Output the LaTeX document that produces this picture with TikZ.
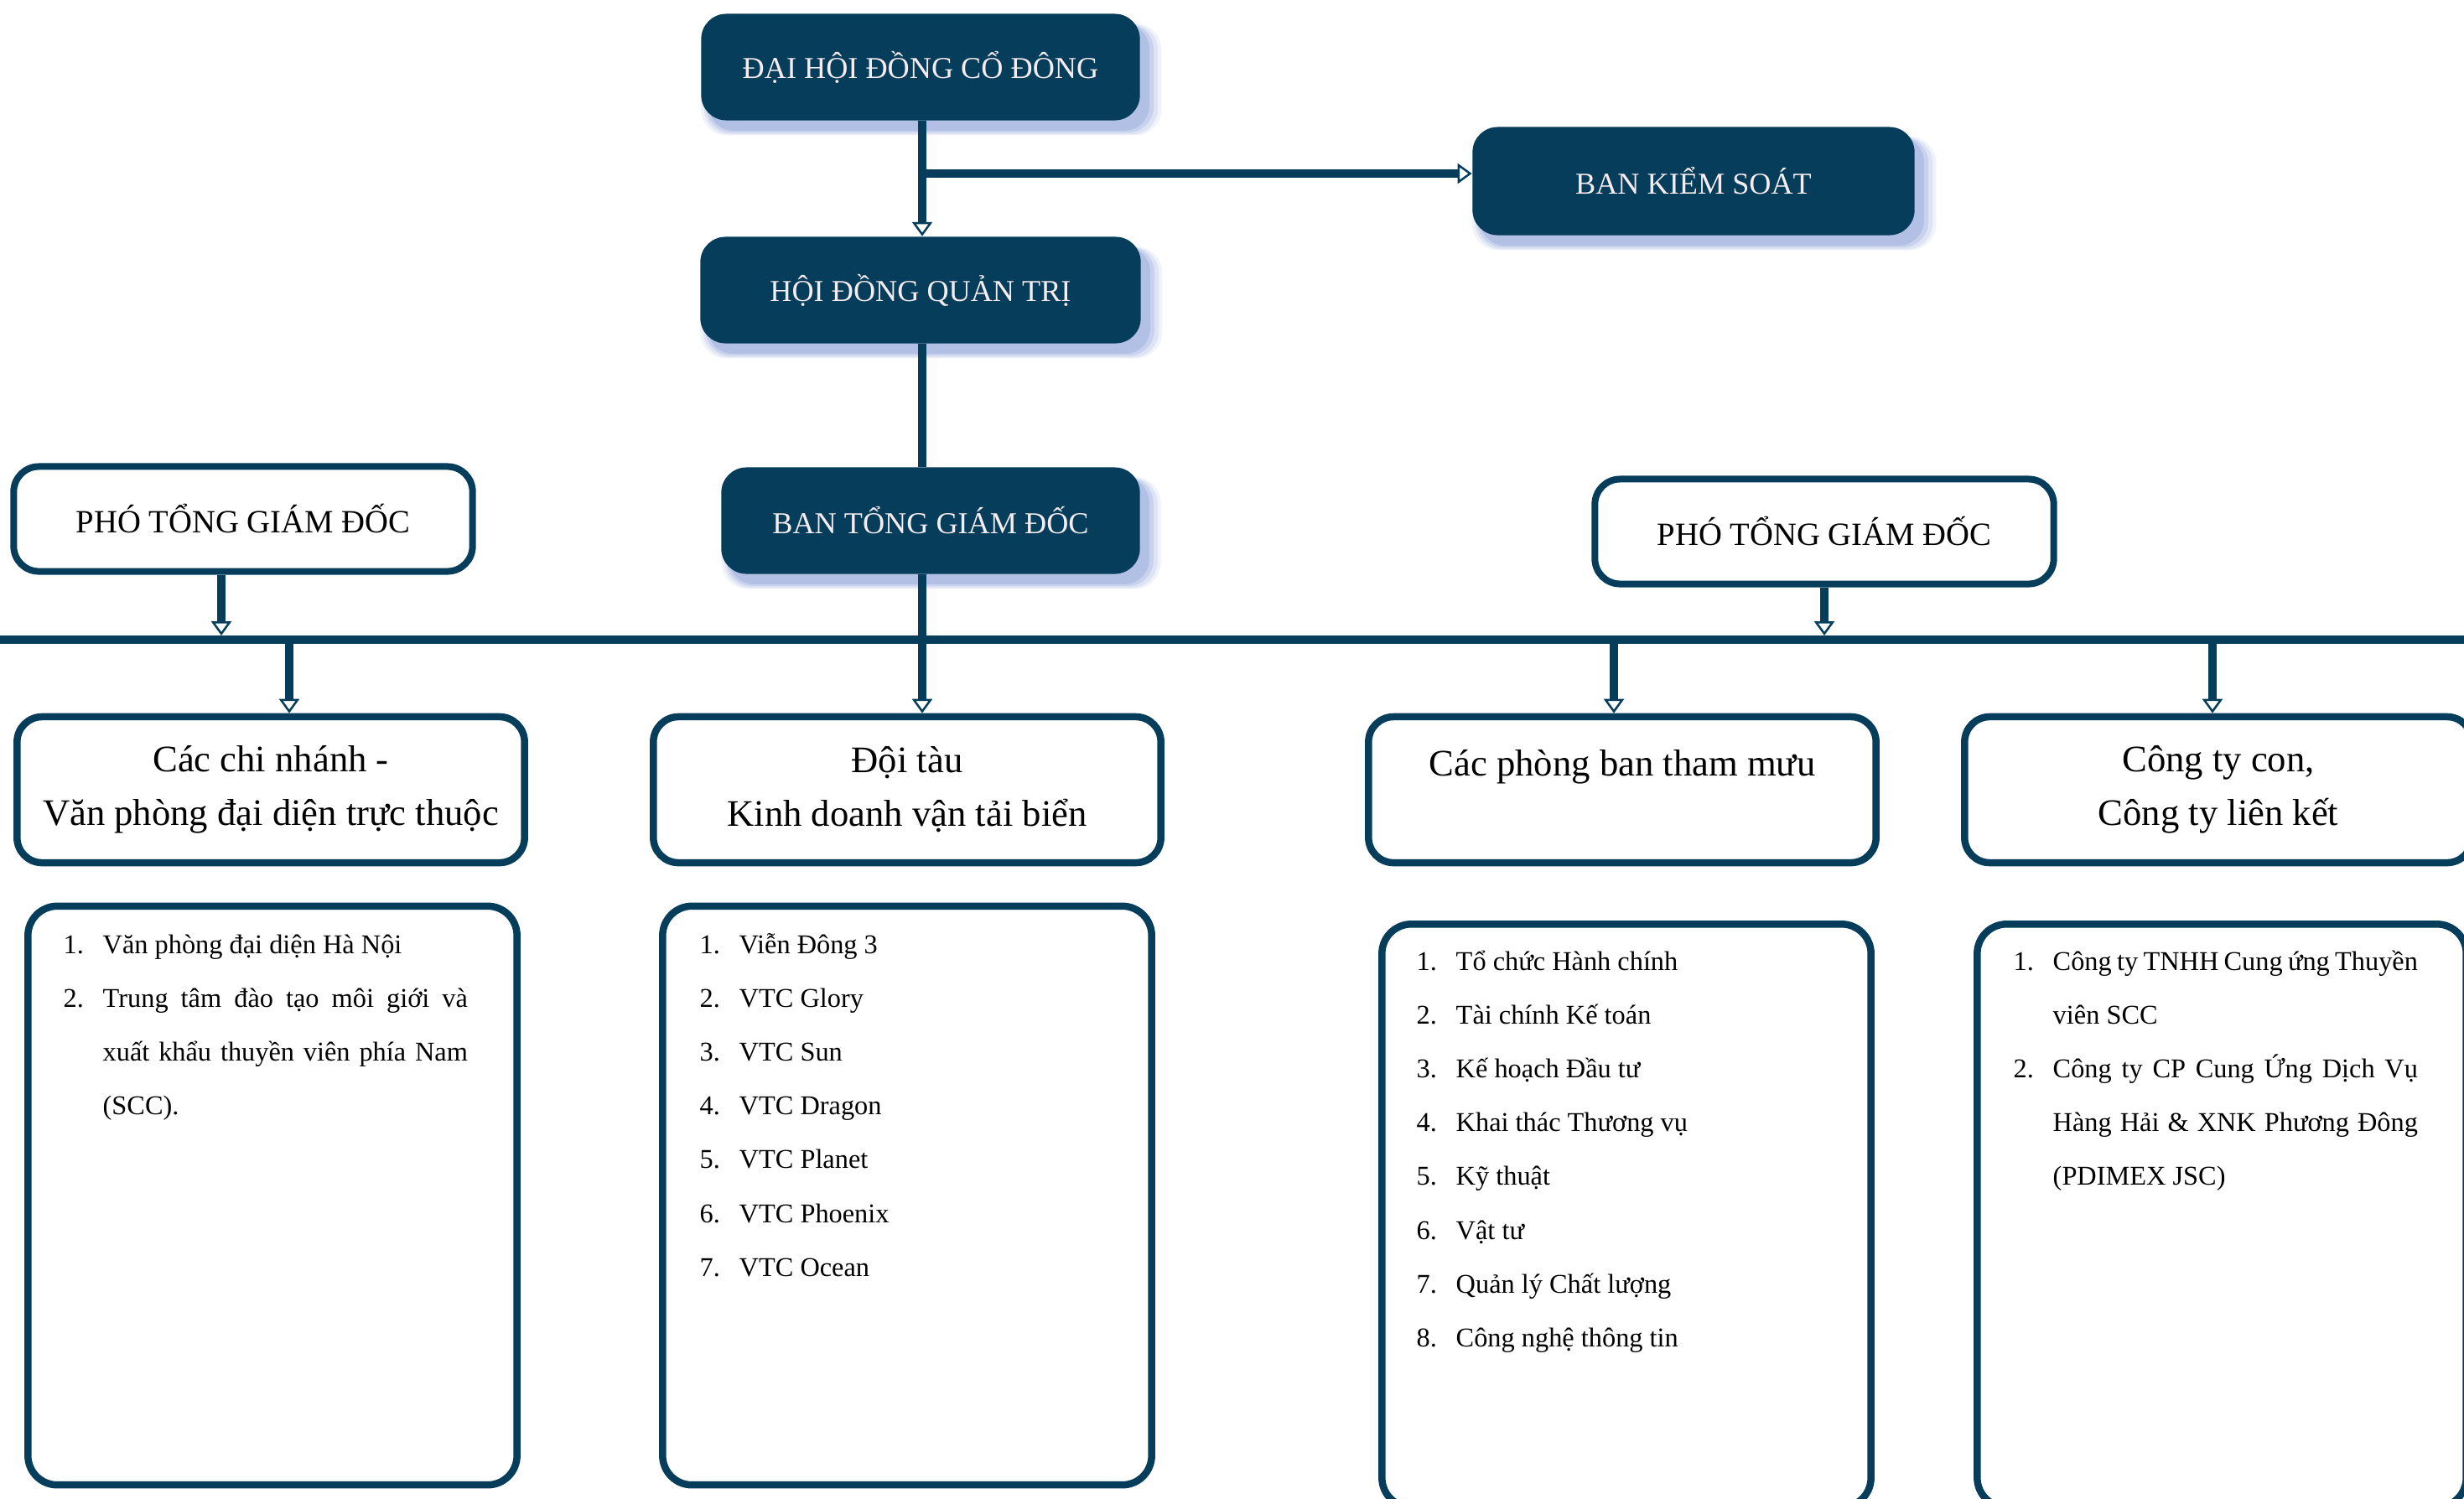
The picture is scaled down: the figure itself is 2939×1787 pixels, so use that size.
\documentclass[tikz,border=0pt]{standalone}
\usepackage{fontspec}
\setmainfont{Liberation Serif}
\usepackage{xcolor}
\usepackage{tikz}
\usetikzlibrary{arrows.meta,shadows,calc}
\definecolor{navymain}{HTML}{053D5B}
\definecolor{shadowblue}{HTML}{8CA0DA}
\definecolor{textlight}{HTML}{F4ECEF}
\tikzset{
  darkbox/.style={fill=navymain,text=textlight,rounded corners=.3cm,minimum height=1.27cm,
    inner sep=0pt,font=\fontsize{10.3}{12}\selectfont,
    drop shadow={shadow xshift=.12cm,shadow yshift=-.14cm,fill=shadowblue,opacity=.12,shadow scale=1.05},
    drop shadow={shadow xshift=.12cm,shadow yshift=-.14cm,fill=shadowblue,opacity=.18,shadow scale=1.035},
    drop shadow={shadow xshift=.11cm,shadow yshift=-.13cm,fill=shadowblue,opacity=.25,shadow scale=1.02},
    drop shadow={shadow xshift=.1cm,shadow yshift=-.12cm,fill=shadowblue,opacity=.35,shadow scale=1.005}},
  vicebox/.style={draw=navymain,line width=.08cm,fill=white,rounded corners=.3cm,
    minimum width=5.47cm,minimum height=1.25cm,font=\fontsize{11}{13}\selectfont},
  headbox/.style={draw=navymain,line width=.085cm,fill=white,rounded corners=.3cm,
    minimum width=6.05cm,minimum height=1.74cm,align=center,font=\fontsize{12.7}{18.2}\selectfont},
  listbox/.style={draw=navymain,line width=.085cm,fill=white,rounded corners=.35cm,minimum width=5.83cm},
  listtxt/.style={anchor=base west,inner sep=0pt,font=\fontsize{9.2}{11}\selectfont},
  link/.style={draw=navymain,line width=.1cm},
  arr/.style={link,->}
}

\begin{document}
\begin{tikzpicture}[>={Triangle[open,width=.24cm,length=.17cm,line width=.025cm]},x=.01cm,y=-.01cm]
  \fill[white] (0,0) rectangle (2939,1787);
  \useasboundingbox (0,0) rectangle (2939,1787);

  % top of the chart
  \node[darkbox,minimum width=5.23cm] (dhcd) at (1098,80) {ĐẠI HỘI ĐỒNG CỔ ĐÔNG};
  \node[darkbox,minimum width=5.25cm] (hdqt) at (1098,346) {HỘI ĐỒNG QUẢN TRỊ};
  \node[darkbox,minimum width=5.27cm,minimum height=1.29cm] (bks) at (2020,216) {BAN KIỂM SOÁT};
  \node[darkbox,minimum width=4.99cm] (btgd) at (1110,621) {BAN TỔNG GIÁM ĐỐC};
  \coordinate (spine) at (1100,0);
  \coordinate (fork) at (1100,207);
  \draw[arr] (dhcd.south -| spine) -- (hdqt.north -| spine);
  \draw[arr] (fork) -- (fork -| bks.west);
  \draw[link] (hdqt.south -| spine) -- (btgd.north -| spine);

  % deputies and the bus
  \node[vicebox] (ptgdL) at (290,619) {PHÓ TỔNG GIÁM ĐỐC};
  \node[vicebox] (ptgdR) at (2176,634) {PHÓ TỔNG GIÁM ĐỐC};
  \coordinate (barL) at (0,763);
  \coordinate (barR) at (2939,763);
  \draw[link] (barL) -- (barR);
  \coordinate (pL) at (264,0);
  \draw[arr,shorten >=.05cm] (ptgdL.south -| pL) -- (barL -| pL);
  \draw[arr,shorten >=.05cm] (ptgdR.south) -- (ptgdR.south |- barL);

  % units
  \node[headbox] (chinhanh) at (323,942) {Các chi nhánh -\\Văn phòng đại diện trực thuộc};
  \node[headbox] (doitau) at (1082,942) {Đội tàu\\Kinh doanh vận tải biển};
  \node[headbox] (phongban) at (1935,942) {Các phòng ban tham mưu\\~};
  \node[headbox] (congty) at (2646,942) {Công ty con,\\Công ty liên kết};
  \coordinate (jA) at (345,763);
  \coordinate (jC) at (1925,763);
  \coordinate (jD) at (2639,763);
  \draw[arr] (btgd.south -| spine) -- (doitau.north -| spine);
  \draw[arr] (jA) -- (jA |- chinhanh.north);
  \draw[arr] (jC) -- (jC |- phongban.north);
  \draw[arr] (jD) -- (jD |- congty.north);

  % lists
  \node[listbox,minimum height=6.9cm] (listA) at (325,1426) {};
  \node[listbox,minimum height=6.9cm] (listB) at (1082,1426) {};
  \node[listbox,minimum height=6.95cm] (listC) at (1940,1450) {};
  \node[listbox,minimum height=6.95cm] (listD) at (2650,1450) {};

  \node[listtxt] (a1) at (75,1137) {\makebox[.47cm][l]{1.}Văn phòng đại diện Hà Nội};
  \node[listtxt] (a2) at (75,1201) {\makebox[.47cm][l]{2.}\makebox[4.35cm][s]{Trung tâm đào tạo môi giới và}};
  \node[listtxt] (a3) at (122,1265) {\makebox[4.35cm][s]{xuất khẩu thuyền viên phía Nam}};
  \node[listtxt] (a4) at (122,1329) {(SCC).};

  \foreach \txt [count=\i] in {Viễn Đông 3,VTC Glory,VTC Sun,VTC Dragon,VTC Planet,VTC Phoenix,VTC Ocean}
    \node[listtxt] (b\i) at (834,{1137+64.2*(\i-1)}) {\makebox[.47cm][l]{\i.}\txt};

  \foreach \txt [count=\i] in {Tổ chức Hành chính,Tài chính Kế toán,Kế hoạch Đầu tư,Khai thác Thương vụ,
      Kỹ thuật,Vật tư,Quản lý Chất lượng,Công nghệ thông tin}
    \node[listtxt] (c\i) at (1689,{1157+64.2*(\i-1)}) {\makebox[.47cm][l]{\i.}\txt};

  \node[listtxt] (d1) at (2401,1157) {\makebox[.47cm][l]{1.}\makebox[4.35cm][s]{Công ty TNHH Cung ứng Thuyền}};
  \node[listtxt] (d2) at (2448,1221) {viên SCC};
  \node[listtxt] (d3) at (2401,1285) {\makebox[.47cm][l]{2.}\makebox[4.35cm][s]{Công ty CP Cung Ứng Dịch Vụ}};
  \node[listtxt] (d4) at (2448,1349) {\makebox[4.35cm][s]{Hàng Hải \& XNK Phương Đông}};
  \node[listtxt] (d5) at (2448,1413) {(PDIMEX JSC)};
\end{tikzpicture}
\end{document}
